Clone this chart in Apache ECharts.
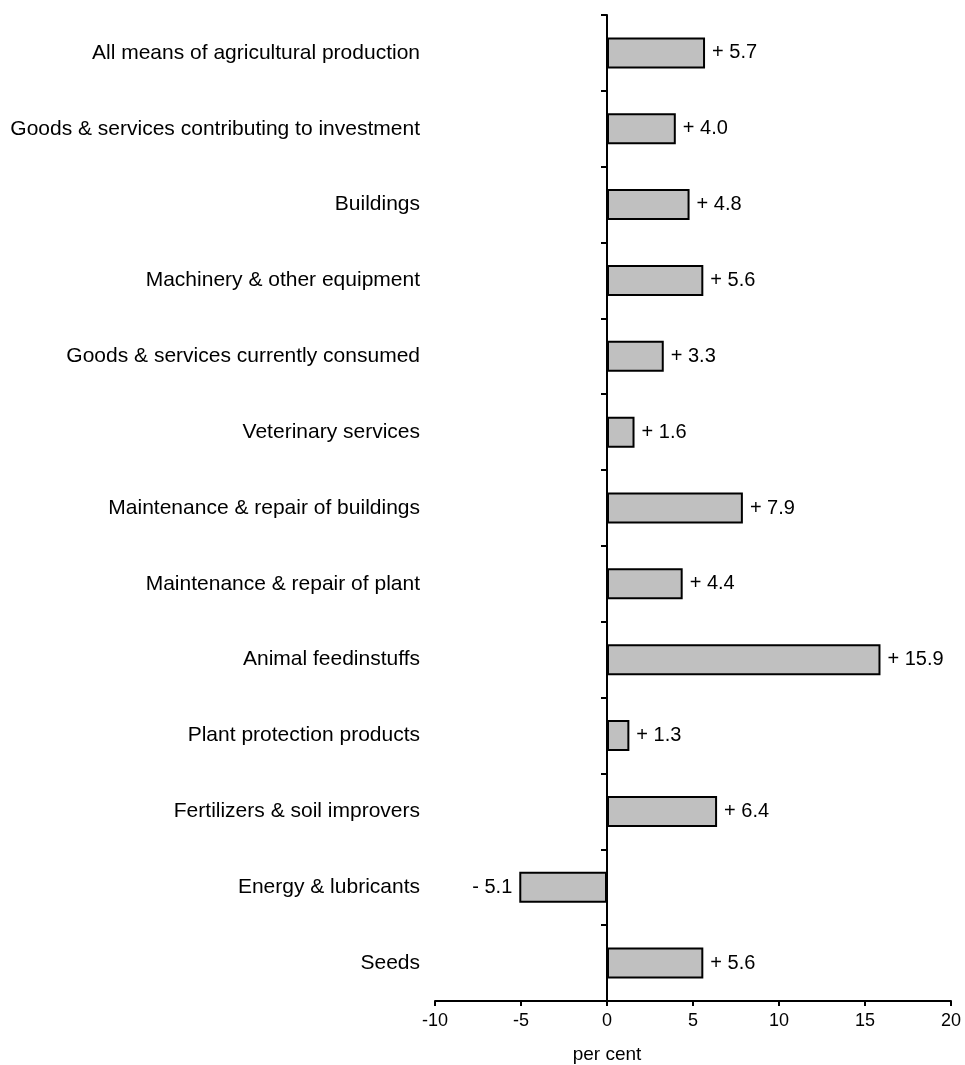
<!DOCTYPE html>
<html>
<head>
<meta charset="utf-8">
<style>
  html, body { margin: 0; padding: 0; background: #fff; }
  #chart { width: 965px; height: 1065px; }
</style>
<script src="https://cdn.jsdelivr.net/npm/echarts@6/dist/echarts.min.js"></script>
</head>
<body>
<div id="chart"></div>
<script>
// Price change of agricultural means of production, per cent
const categories = [
  'All means of agricultural production',
  'Goods & services contributing to investment',
  'Buildings',
  'Machinery & other equipment',
  'Goods & services currently consumed',
  'Veterinary services',
  'Maintenance & repair of buildings',
  'Maintenance & repair of plant',
  'Animal feedinstuffs',
  'Plant protection products',
  'Fertilizers & soil improvers',
  'Energy & lubricants',
  'Seeds'
];
const values = [5.7, 4.0, 4.8, 5.6, 3.3, 1.6, 7.9, 4.4, 15.9, 1.3, 6.4, -5.1, 5.6];
const xTicks = [-10, -5, 0, 5, 10, 15, 20];
const axisTitle = 'per cent';

const FONT = '"Liberation Sans", Arial, sans-serif';

function signed(v) {
  return (v < 0 ? '- ' : '+ ') + Math.abs(v).toFixed(1);
}

const barData = values.map(v => ({
  value: v,
  label: { position: v < 0 ? 'left' : 'right' }
}));

const chart = echarts.init(document.getElementById('chart'), null, { renderer: 'canvas' });

const option = {
  animation: false,
  backgroundColor: '#ffffff',
  grid: {
    left: 435, right: 14, top: 15, bottom: 64,
    containLabel: false,
    outerBoundsMode: 'none'
  },
  xAxis: {
    type: 'value',
    min: xTicks[0],
    max: xTicks[xTicks.length - 1],
    interval: 5,
    splitLine: { show: false },
    axisLine: { show: true, onZero: false, lineStyle: { color: '#000', width: 2 } },
    axisTick: { show: true, length: 5, lineStyle: { color: '#000', width: 2 } },
    axisLabel: { color: '#000', fontFamily: FONT, fontSize: 18, margin: 11 }
  },
  yAxis: {
    type: 'category',
    inverse: true,
    data: categories,
    axisLine: { show: true, onZero: true, lineStyle: { color: '#000', width: 2 } },
    axisTick: { show: true, length: 6, lineStyle: { color: '#000', width: 2 } },
    axisLabel: { color: '#000', fontFamily: FONT, fontSize: 21, margin: 15 }
  },
  series: [{
    type: 'bar',
    data: barData,
    barWidth: 31,
    itemStyle: { color: '#c0c0c0', borderColor: '#000', borderWidth: 2 },
    label: {
      show: true,
      distance: 7,
      color: '#000',
      fontFamily: FONT,
      fontSize: 20,
      formatter: p => signed(p.value)
    }
  }],
  graphic: [{
    type: 'text',
    x: 607,
    y: 1045,
    style: {
      text: axisTitle,
      fill: '#000',
      font: '19px ' + FONT,
      textAlign: 'center'
    }
  }]
};

chart.setOption(option);
</script>
</body>
</html>
